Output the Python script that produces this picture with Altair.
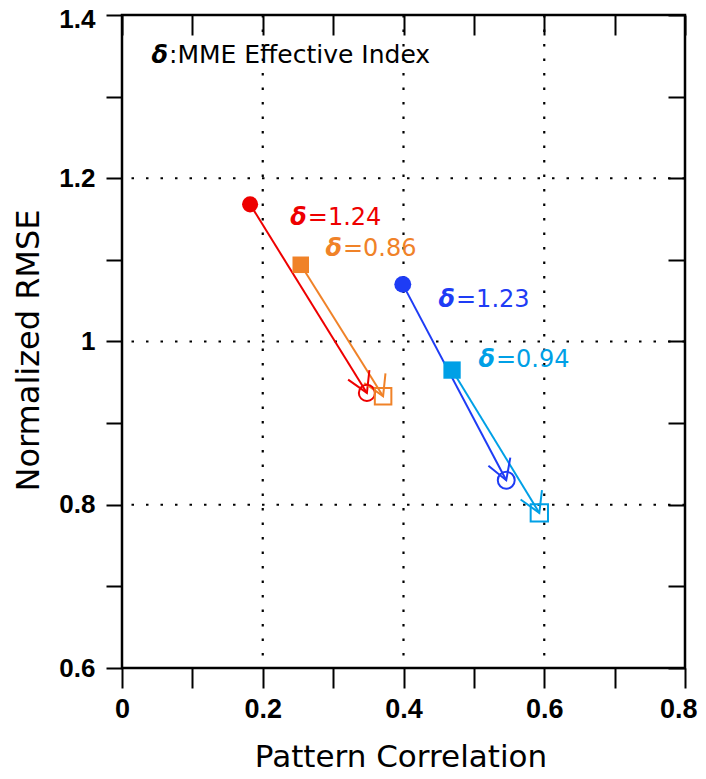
import math
import altair as alt
import pandas as pd

# ---------------- data ----------------
series = ["δ=1.24", "δ=0.86", "δ=1.23", "δ=0.94"]
delta_text = ["=1.24", "=0.86", "=1.23", "=0.94"]
marker_shape = ["circle", "square", "circle", "square"]
fill_size = [280, 310, 280, 310]
open_size = [260, 300, 260, 300]
colors = ["#ee0000", "#f08228", "#1e3cf5", "#00a0e6"]

pc_start = [0.182, 0.254, 0.399, 0.469]
rmse_start = [1.168, 1.094, 1.070, 0.965]
pc_end = [0.348, 0.371, 0.546, 0.593]
rmse_end = [0.937, 0.933, 0.830, 0.790]

label_pc = [0.264, 0.314, 0.4746, 0.5314]
label_rmse = [1.1427, 1.1047, 1.0423, 0.9688]

header_pc = [0.0668]
header_rmse = [1.341]
header_text = [":MME Effective Index"]

x_ticks = [round(0.1 * i, 1) for i in range(0, 9)]
y_ticks = [round(0.6 + 0.1 * i, 1) for i in range(0, 9)]
x_grid = [0.2, 0.4, 0.6]
y_grid = [0.8, 1.0, 1.2]

# ---------------- layout ----------------
W, H = 563, 653
X_DOM, Y_DOM = [0, 0.8], [0.6, 1.4]
sx = W / (X_DOM[1] - X_DOM[0])
sy = H / (Y_DOM[1] - Y_DOM[0])

angles = []
for a, b, c, d in zip(pc_start, rmse_start, pc_end, rmse_end):
    dx = (c - a) * sx
    dy = -(d - b) * sy
    angles.append(math.degrees(math.atan2(dy, dx)) % 360)

df = pd.DataFrame({
    "series": series,
    "dtext": delta_text,
    "pc0": pc_start, "rmse0": rmse_start,
    "pc1": pc_end, "rmse1": rmse_end,
    "lpc": label_pc, "lrmse": label_rmse,
    "ang": angles,
})
hdr = pd.DataFrame({"pc": header_pc, "rmse": header_rmse, "t": header_text})
gx = pd.DataFrame({"x": x_grid})
gy = pd.DataFrame({"y": y_grid})

xs = alt.Scale(domain=X_DOM, nice=False, zero=False)
ys = alt.Scale(domain=Y_DOM, nice=False, zero=False)
col = alt.Color("series:N", scale=alt.Scale(domain=series, range=colors), legend=None)
shp = alt.Shape("series:N", scale=alt.Scale(domain=series, range=marker_shape), legend=None)
fsiz = alt.Size("series:N", scale=alt.Scale(domain=series, range=fill_size), legend=None)
osiz = alt.Size("series:N", scale=alt.Scale(domain=series, range=open_size), legend=None)

LBL_FONT = "Liberation Sans"
TXT_FONT = "DejaVu Sans"
even_expr = "round(datum.value*10) % 2 == 0 ? datum.label : ''"

ax_bottom = alt.Axis(orient="bottom", values=x_ticks, format="~g", labelExpr=even_expr,
                     tickSize=20, tickWidth=2, tickColor="black", domain=False, grid=False,
                     labelFont=LBL_FONT, labelFontSize=27, labelFontWeight="bold",
                     labelColor="black", labelPadding=8,
                     labelAlign={"condition": {"test": "datum.value >= 0.75", "value": "right"},
                                 "value": "center"},
                     labelOffset={"condition": {"test": "datum.value >= 0.75", "value": 12},
                                  "value": 0},
                     labelFlush=False, labelOverlap=False, labelBound=False,
                     title="Pattern Correlation", titleFont=TXT_FONT, titleFontSize=31,
                     titleFontWeight="normal", titleColor="black", titleBaseline="alphabetic",
                     titleX=W / 2 - 3, titleY=98)
ax_left = alt.Axis(orient="left", values=y_ticks, format="~g", labelExpr=even_expr,
                   tickSize=16, tickWidth=2, tickColor="black", domain=False, grid=False,
                   labelFont=LBL_FONT, labelFontSize=26, labelFontWeight="bold",
                   labelColor="black", labelPadding=11,
                   labelOffset={"condition": {"test": "datum.value >= 1.35", "value": 4},
                                "value": 0},
                   labelFlush=False, labelOverlap=False, labelBound=False,
                   title="Normalized RMSE", titleFont=TXT_FONT, titleFontSize=32,
                   titleFontWeight="normal", titleColor="black", titleBaseline="alphabetic",
                   titleAngle=270, titleX=-84, titleY=335)
ax_top = alt.Axis(orient="top", values=x_ticks, labels=False, tickSize=20, tickWidth=2,
                  tickColor="black", domain=False, grid=False, title=None, offset=-20)
ax_right = alt.Axis(orient="right", values=y_ticks, labels=False, tickSize=17, tickWidth=2,
                    tickColor="black", domain=False, grid=False, title=None, offset=-17)

grid_style = dict(color="black", strokeWidth=2.2, strokeDash=[2.5, 12], strokeCap="butt")

vgrid = alt.Chart(gx).mark_rule(**grid_style).encode(
    x=alt.X("x:Q", scale=xs, axis=ax_bottom))
hgrid = alt.Chart(gy).mark_rule(**grid_style).encode(
    y=alt.Y("y:Q", scale=ys, axis=ax_left))

base = alt.Chart(df)

arrows = base.mark_rule(strokeWidth=2).encode(
    x=alt.X("pc0:Q", scale=xs, axis=ax_top),
    y=alt.Y("rmse0:Q", scale=ys, axis=ax_right),
    x2="pc1:Q", y2="rmse1:Q", color=col)

heads = base.mark_point(shape="M-0.921,0.391L0,0L-0.788,-0.616", filled=False, size=2116,
                        strokeWidth=2, opacity=1).encode(
    x=alt.X("pc1:Q", scale=xs, axis=None),
    y=alt.Y("rmse1:Q", scale=ys, axis=None),
    angle=alt.Angle("ang:Q", scale=None), color=col)

open_pts = base.mark_point(filled=False, strokeWidth=2, opacity=1).encode(
    x=alt.X("pc1:Q", scale=xs, axis=None),
    y=alt.Y("rmse1:Q", scale=ys, axis=None),
    color=col, shape=shp, size=osiz)

fill_pts = base.mark_point(filled=True, opacity=1).encode(
    x=alt.X("pc0:Q", scale=xs, axis=None),
    y=alt.Y("rmse0:Q", scale=ys, axis=None),
    color=col, shape=shp, size=fsiz)

delta_sym = base.mark_text(text="δ", align="right", baseline="alphabetic", font=TXT_FONT,
                           fontSize=24, fontStyle="italic", fontWeight="bold", dx=-1).encode(
    x=alt.X("lpc:Q", scale=xs, axis=None),
    y=alt.Y("lrmse:Q", scale=ys, axis=None), color=col)

delta_val = base.mark_text(align="left", baseline="alphabetic", font=TXT_FONT,
                           fontSize=24).encode(
    x=alt.X("lpc:Q", scale=xs, axis=None),
    y=alt.Y("lrmse:Q", scale=ys, axis=None),
    text="dtext:N", color=col)

hdr_sym = alt.Chart(hdr).mark_text(text="δ", align="right", baseline="alphabetic",
                                   font=TXT_FONT, fontSize=24, fontStyle="italic",
                                   fontWeight="bold", color="black", dx=-1).encode(
    x=alt.X("pc:Q", scale=xs, axis=None),
    y=alt.Y("rmse:Q", scale=ys, axis=None))
hdr_txt = alt.Chart(hdr).mark_text(align="left", baseline="alphabetic", font=TXT_FONT,
                                   fontSize=25, color="black").encode(
    x=alt.X("pc:Q", scale=xs, axis=None),
    y=alt.Y("rmse:Q", scale=ys, axis=None), text="t:N")

chart = alt.layer(
    vgrid, hgrid, hdr_sym, hdr_txt, arrows, heads, open_pts, fill_pts, delta_sym, delta_val
).resolve_axis(x="independent", y="independent").properties(
    width=W, height=H,
    autosize=alt.AutoSizeParams(type="none"),
    padding={"left": 114, "top": 7, "right": 13, "bottom": 103},
    background="white",
).configure_view(stroke="black", strokeWidth=2.5)

chart.save("out.html", embed_options={"renderer": "svg", "actions": False})
